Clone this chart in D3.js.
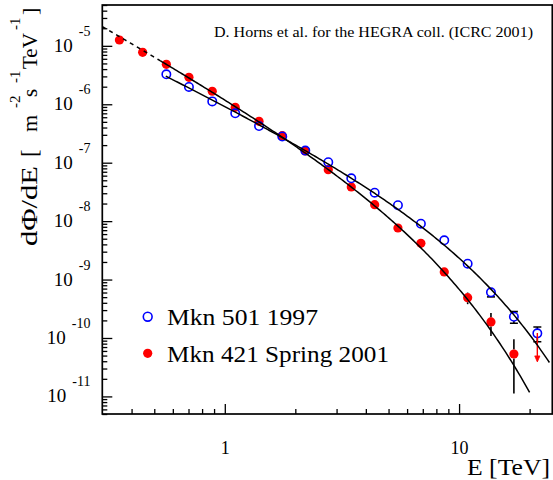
<!DOCTYPE html>
<html>
<head>
<meta charset="utf-8">
<script src="https://cdn.jsdelivr.net/npm/d3@7"></script>
<style>
  body { margin: 0; background: #fff; }
  svg { display: block; }
  svg text { font-family: "Liberation Serif", "Times New Roman", serif; fill: #000; }
</style>
</head>
<body>
<svg id="chart" width="553" height="480"></svg>
<script>
// ---- Measured spectra (TeV, m^-2 s^-1 TeV^-1) ----
const mkn421Energy = [0.355, 0.446, 0.563, 0.703, 0.884, 1.108, 1.400, 1.759, 2.206, 2.765,
                      3.467, 4.363, 5.483, 6.871, 8.645, 10.88, 13.68, 17.14];
const mkn421Flux   = [1.26e-5, 7.75e-6, 4.83e-6, 2.89e-6, 1.67e-6, 8.87e-7, 5.11e-7, 2.90e-7, 1.59e-7, 7.59e-8,
                      3.84e-8, 1.91e-8, 7.63e-9, 4.17e-9, 1.35e-9, 4.89e-10, 1.88e-10, 5.32e-11];
const mkn421Err    = [4e-7, 2.5e-7, 1.5e-7, 9e-8, 5e-8, 2.7e-8, 1.6e-8, 1e-8, 6e-9, 3e-9,
                      1.7e-9, 9e-10, 4.5e-10, 3e-10, 1.2e-10, 1.1e-10, 8.0e-11, 4.2e-11];
const mkn421UlEnergy = [21.58];
const mkn421UlFlux   = [1.22e-10];

const mkn501Energy = [0.563, 0.703, 0.884, 1.108, 1.400, 1.759, 2.206, 2.765, 3.467, 4.363,
                      5.483, 6.871, 8.645, 10.88, 13.68, 17.14, 21.58];
const mkn501Flux   = [3.26e-6, 1.98e-6, 1.12e-6, 7.01e-7, 4.25e-7, 2.81e-7, 1.61e-7, 1.02e-7, 5.41e-8, 3.07e-8,
                      1.87e-8, 9.04e-9, 4.70e-9, 1.87e-9, 6.05e-10, 2.31e-10, 1.20e-10];
const mkn501Err    = [1e-7, 6e-8, 3.5e-8, 2e-8, 1.3e-8, 9e-9, 5e-9, 3.5e-9, 2e-9, 1.2e-9,
                      8e-10, 4e-10, 2.5e-10, 1.2e-10, 1.0e-10, 5.2e-11, 3.4e-11];

// ---- Power law with exponential cut-off fits: N0 * E^-index * exp(-E/Ec) ----
const mkn421Fit = { norm: 1.514e-6, index: 2.26, cutoff: 4.0, range: [0.53, 20.0], extrapolation: [0.3, 0.53] };
const mkn501Fit = { norm: 1.079e-6, index: 1.94, cutoff: 5.98, range: [0.56, 24.3] };

// ---- Axis ticks ----
const xLabelTicks = [1, 10];
const xMinorTicks = [0.4, 0.5, 0.6, 0.7, 0.8, 0.9, 2, 3, 4, 5, 6, 7, 8, 9, 20];
const yExponents  = [-5, -6, -7, -8, -9, -10, -11];

const legendEntries = ["Mkn 501 1997", "Mkn 421 Spring 2001"];
const creditText = "D. Horns et al. for the HEGRA coll. (ICRC 2001)";

// ---- Layout ----
const plot = { left: 102.3, right: 552.3, top: 5, bottom: 414 };

const svg = d3.select("#chart");

const x = d3.scaleLog().domain([0.3, 25]).range([plot.left, plot.right]);
const y = d3.scaleLog().domain([5e-12, 5e-5]).range([plot.bottom, plot.top]);

const yMajor = yExponents.map(e => Math.pow(10, e));
const yMinor = [];
for (let d = -12; d <= -5; d++) {
  for (let m = 2; m <= 9; m++) {
    const v = m * Math.pow(10, d);
    if (v >= 5e-12 && v <= 5e-5) yMinor.push(v);
  }
}

svg.append("defs").append("clipPath").attr("id", "plotClip")
  .append("rect")
  .attr("x", plot.left).attr("y", plot.top)
  .attr("width", plot.right - plot.left).attr("height", plot.bottom - plot.top);

// ---- Axes (ticks pointing into the frame) ----
function styleAxis(g) {
  g.select(".domain").remove();
  g.selectAll(".tick line").attr("stroke", "#000").attr("stroke-width", 1.3);
}

svg.append("g")
  .attr("transform", `translate(0,${plot.bottom})`)
  .call(d3.axisBottom(x).tickValues(xMinorTicks).tickSize(-5).tickFormat(""))
  .call(styleAxis);

svg.append("g")
  .attr("transform", `translate(0,${plot.bottom})`)
  .call(d3.axisBottom(x).tickValues(xLabelTicks).tickSizeInner(-10).tickSizeOuter(0)
          .tickPadding(27).tickFormat(d3.format("d")))
  .call(styleAxis)
  .call(g => g.attr("font-family", null).selectAll("text")
    .attr("font-size", 18).attr("fill", "#000"));

svg.append("g")
  .attr("transform", `translate(${plot.left},0)`)
  .call(d3.axisLeft(y).tickValues(yMinor).tickSize(-5).tickFormat(""))
  .call(styleAxis);

svg.append("g")
  .attr("transform", `translate(${plot.left},0)`)
  .call(d3.axisLeft(y).tickValues(yMajor).tickSize(-10).tickFormat(""))
  .call(styleAxis);

// y tick labels: 10 with a raised exponent
const yLab = svg.append("g");
yExponents.forEach(e => {
  const ty = y(Math.pow(10, e));
  const t = yLab.append("text")
    .attr("x", 90.5).attr("y", ty + 6)
    .attr("text-anchor", "end")
    .attr("font-size", 19);
  t.append("tspan").text("10");
  t.append("tspan").attr("dx", 6).attr("dy", -16).attr("font-size", 14).text("-" + Math.abs(e));
});

// ---- Frame ----
svg.append("rect")
  .attr("x", plot.left).attr("y", plot.top)
  .attr("width", plot.right - plot.left).attr("height", plot.bottom - plot.top)
  .attr("fill", "none").attr("stroke", "#000").attr("stroke-width", 1.7);

// ---- Data ----
const dataG = svg.append("g").attr("clip-path", "url(#plotClip)");

function errorBars(energy, flux, err, radius, caps) {
  energy.forEach((e, i) => {
    const cx = x(e), cy = y(flux[i]);
    const yHi = y(flux[i] + err[i]);
    const yLo = y(Math.max(flux[i] - err[i], 1e-14));
    const seg = (y1, y2) => dataG.append("line")
      .attr("x1", cx).attr("x2", cx).attr("y1", y1).attr("y2", y2)
      .attr("stroke", "#000").attr("stroke-width", 1.6);
    const cap = yy => dataG.append("line")
      .attr("x1", cx - 4).attr("x2", cx + 4).attr("y1", yy).attr("y2", yy)
      .attr("stroke", "#000").attr("stroke-width", 1.6);
    if (cy - yHi > radius) { seg(yHi, cy - radius); if (caps) cap(yHi); }
    if (yLo - cy > radius) { seg(cy + radius, yLo); if (caps) cap(yLo); }
  });
}

errorBars(mkn501Energy, mkn501Flux, mkn501Err, 4.2, true);
errorBars(mkn421Energy, mkn421Flux, mkn421Err, 4.5, false);

dataG.selectAll("circle.mkn421")
  .data(mkn421Energy.map((e, i) => [e, mkn421Flux[i]]))
  .join("circle").attr("class", "mkn421")
  .attr("cx", d => x(d[0])).attr("cy", d => y(d[1]))
  .attr("r", 4.6).attr("fill", "#ff0000");

dataG.selectAll("circle.mkn501")
  .data(mkn501Energy.map((e, i) => [e, mkn501Flux[i]]))
  .join("circle").attr("class", "mkn501")
  .attr("cx", d => x(d[0])).attr("cy", d => y(d[1]))
  .attr("r", 4.2).attr("fill", "none").attr("stroke", "#0000ff").attr("stroke-width", 1.6);

// Mkn 421 upper limit arrow
mkn421UlEnergy.forEach((e, i) => {
  const cx = x(e), cy = y(mkn421UlFlux[i]);
  const len = 29;
  dataG.append("line").attr("x1", cx).attr("x2", cx).attr("y1", cy).attr("y2", cy + len - 4)
    .attr("stroke", "#ff0000").attr("stroke-width", 1.4);
  dataG.append("path")
    .attr("d", `M${cx - 2.6},${cy + len - 6} L${cx + 2.6},${cy + len - 6} L${cx},${cy + len} Z`)
    .attr("fill", "#ff0000").attr("stroke", "#ff0000").attr("stroke-width", 0.8);
});

// ---- Fit curves ----
function fitValue(f, e) {
  return f.norm * Math.pow(e, -f.index) * Math.exp(-e / f.cutoff);
}
function fitPath(f, lo, hi) {
  const n = 200;
  const l0 = Math.log10(lo), l1 = Math.log10(hi);
  const pts = d3.range(n + 1).map(k => {
    const e = Math.pow(10, l0 + (l1 - l0) * k / n);
    return [x(e), y(fitValue(f, e))];
  });
  return d3.line()(pts);
}

dataG.append("path").attr("d", fitPath(mkn421Fit, mkn421Fit.extrapolation[0], mkn421Fit.extrapolation[1]))
  .attr("fill", "none").attr("stroke", "#000").attr("stroke-width", 1.5).attr("stroke-dasharray", "4,4");
dataG.append("path").attr("d", fitPath(mkn421Fit, mkn421Fit.range[0], mkn421Fit.range[1]))
  .attr("fill", "none").attr("stroke", "#000").attr("stroke-width", 1.5);
dataG.append("path").attr("d", fitPath(mkn501Fit, mkn501Fit.range[0], mkn501Fit.range[1]))
  .attr("fill", "none").attr("stroke", "#000").attr("stroke-width", 1.5);

// ---- Credit line ----
svg.append("text").attr("x", 214).attr("y", 36.5)
  .attr("font-size", 14.5)
  .attr("textLength", 319).attr("lengthAdjust", "spacingAndGlyphs")
  .text(creditText);

// ---- Legend ----
const legend = svg.append("g");
legend.append("circle").attr("cx", 147.7).attr("cy", 316.7).attr("r", 4.4)
  .attr("fill", "none").attr("stroke", "#0000ff").attr("stroke-width", 1.6);
legend.append("circle").attr("cx", 147.7).attr("cy", 353.3).attr("r", 4.6)
  .attr("fill", "#ff0000");
legend.append("text").attr("x", 167).attr("y", 325).attr("font-size", 23)
  .attr("textLength", 151).attr("lengthAdjust", "spacingAndGlyphs").text(legendEntries[0]);
legend.append("text").attr("x", 167).attr("y", 361.5).attr("font-size", 23)
  .attr("textLength", 222).attr("lengthAdjust", "spacingAndGlyphs").text(legendEntries[1]);

// ---- Axis titles ----
svg.append("text").attr("x", 467).attr("y", 475)
  .attr("font-size", 23)
  .attr("textLength", 83).attr("lengthAdjust", "spacingAndGlyphs")
  .text("E [TeV]");

// dPhi/dE title, read bottom to top; pieces placed along the axis
const yt = svg.append("text")
  .attr("transform", "translate(37,0) rotate(-90)");
const titleParts = [
  { s: "d\u03A6/dE", at: 246, len: 80, size: 23 },
  { s: "[", at: 157, size: 23 },
  { s: "m", at: 132, size: 22 },
  { s: "-2", at: 108, sup: true },
  { s: "s", at: 97, size: 21 },
  { s: "-1", at: 83, sup: true },
  { s: "TeV", at: 69, size: 21 },
  { s: "-1", at: 30, sup: true },
  { s: "]", at: 15, size: 22 }
];
titleParts.forEach(p => {
  const ts = yt.append("tspan")
    .attr("x", -p.at)
    .attr("y", p.sup ? -17 : 0)
    .attr("font-size", p.sup ? 15 : p.size)
    .text(p.s);
  if (p.len) ts.attr("textLength", p.len).attr("lengthAdjust", "spacingAndGlyphs");
});
</script>
</body>
</html>
